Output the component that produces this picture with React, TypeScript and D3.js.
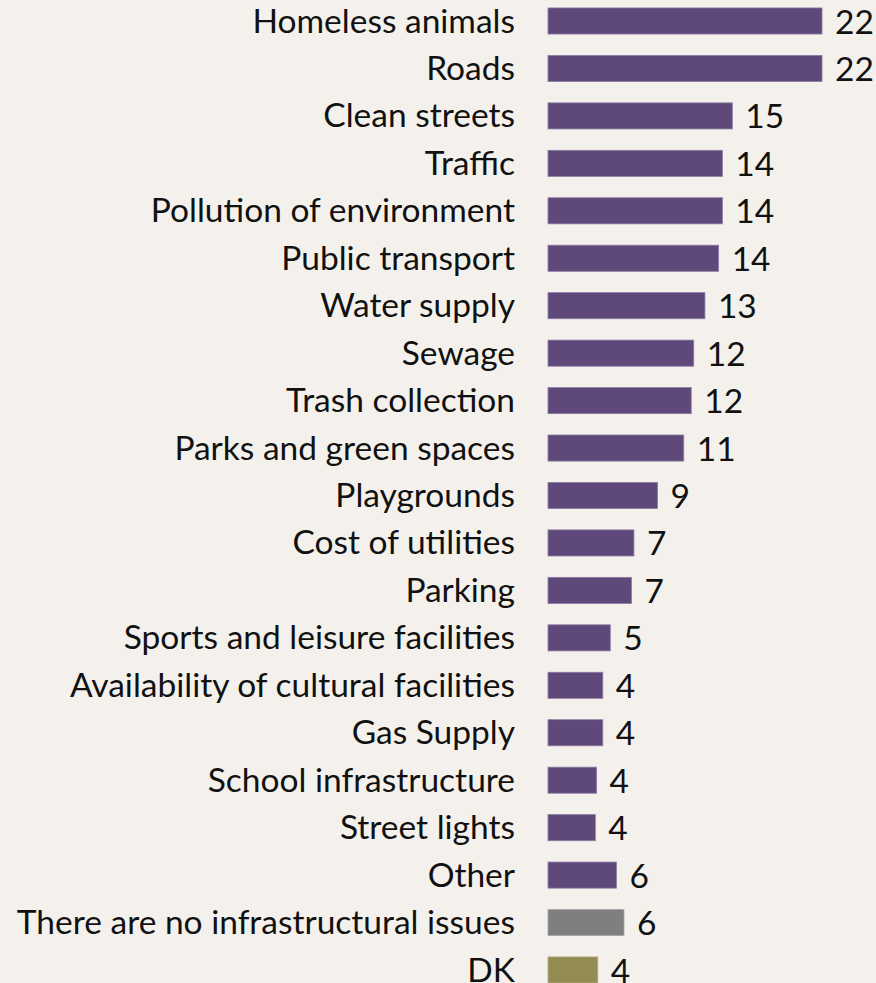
import { useEffect } from "react";
import * as d3 from "d3";

const categories = [
  "Homeless animals",
  "Roads",
  "Clean streets",
  "Traffic",
  "Pollution of environment",
  "Public transport",
  "Water supply",
  "Sewage",
  "Trash collection",
  "Parks and green spaces",
  "Playgrounds",
  "Cost of utilities",
  "Parking",
  "Sports and leisure facilities",
  "Availability of cultural facilities",
  "Gas Supply",
  "School infrastructure",
  "Street lights",
  "Other",
  "There are no infrastructural issues",
  "DK",
];

// share of respondents, %
const values = [
  22.0, 22.0, 14.8, 14.0, 14.0, 13.7, 12.6, 11.7, 11.5, 10.9, 8.8, 6.9, 6.7,
  5.0, 4.4, 4.4, 3.9, 3.8, 5.5, 6.1, 4.0,
];

const groups = [
  "issue", "issue", "issue", "issue", "issue", "issue", "issue", "issue",
  "issue", "issue", "issue", "issue", "issue", "issue", "issue", "issue",
  "issue", "issue", "issue", "none", "dk",
];

const width = 876;
const height = 983;
const step = 47.45;
const font = "Lato, 'Open Sans', sans-serif";
const fontSize = 33.5;

const fill: Record<string, string> = { issue: "#5F497A", none: "#7F7F7F", dk: "#948A54" };
const stroke: Record<string, string> = { issue: "#8D7BA6", none: "#A6A6A6", dk: "#B5AC7E" };

export default function App() {
  useEffect(() => {
    document.body.style.margin = "0";
    document.body.style.background = "#F4F1EC";
  }, []);

  const x = d3.scaleLinear().domain([0, 22]).range([548, 822]);
  const y = d3
    .scaleBand<string>()
    .domain(categories)
    .range([21 - step / 2, 21 - step / 2 + step * categories.length])
    .paddingInner(0.45)
    .paddingOuter(0.225);

  return (
    <svg width={width} height={height} style={{ display: "block", background: "#F4F1EC" }}>
      {categories.map((c, i) => {
        const cy = (y(c) ?? 0) + y.bandwidth() / 2;
        return (
          <g key={c}>
            <text
              x={515}
              y={cy + 11.5}
              textAnchor="end"
              fontFamily={font}
              fontSize={fontSize}
              fill="#111"
            >
              {c}
            </text>
            <rect
              x={x(0)}
              y={y(c)}
              width={x(values[i]) - x(0)}
              height={y.bandwidth()}
              fill={fill[groups[i]]}
              stroke={stroke[groups[i]]}
              strokeWidth={0.8}
            />
            <text
              x={x(values[i]) + 13}
              y={cy + 12.5}
              fontFamily={font}
              fontSize={fontSize}
              fill="#111"
            >
              {d3.format(".0f")(values[i])}
            </text>
          </g>
        );
      })}
    </svg>
  );
}
